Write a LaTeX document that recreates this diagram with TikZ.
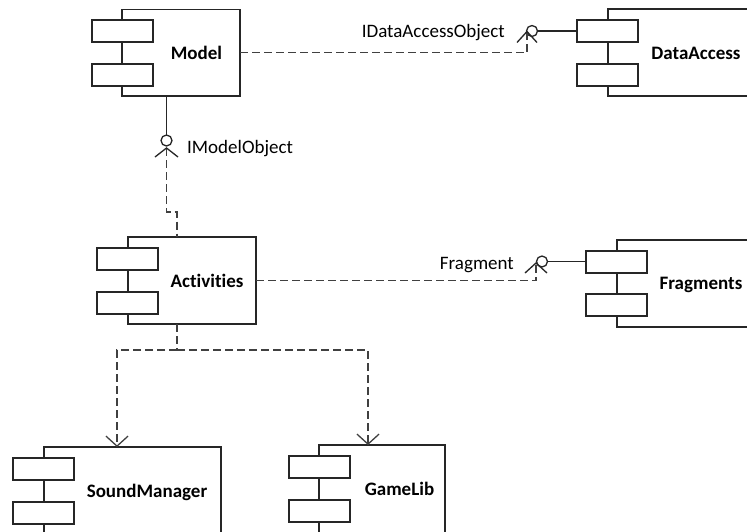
\documentclass[tikz,border=0pt]{standalone}
\usepackage{fontspec}
\setmainfont{Carlito}[Ligatures=NoCommon]
\usetikzlibrary{arrows.meta,calc}
\begin{document}
\begin{tikzpicture}[x=1pt,y=-1pt,
  box/.style={draw=black!85, line width=1.3pt, fill=white, inner sep=0pt, outer sep=0pt, anchor=north west},
  port/.style={box, minimum width=61pt, minimum height=22pt},
  iface/.style={circle, draw=black!85, line width=1.3pt, inner sep=0pt, outer sep=0pt, minimum size=11pt},
  dep/.style={draw=black!75, line width=1.3pt, dash pattern=on 8pt off 4pt},
  wire/.style={draw=black!85, line width=1.3pt},
  title/.style={font=\fontsize{19}{23}\selectfont\bfseries, inner sep=0pt, anchor=base},
  lbl/.style={font=\fontsize{19}{23}\selectfont, inner sep=0pt},
  open tip/.style={-{Straight Barb[length=10pt,width=22pt,line width=1.3pt]}}
]
\useasboundingbox (0,0) rectangle (747,531);
\fill[white] (0,0) rectangle (747,531);
\clip (0,0) rectangle (747,531);

% --- components ---
% Model
\node[box, minimum width=118pt, minimum height=86.5pt] (model) at (122,9.5) {};
\node[port] (model-p1) at (92,20) {};
\node[port] (model-p2) at (92,64) {};
\node[title] (model-t) at (196.5,59.5) {Model};

% DataAccess
\node[box, minimum width=200pt, minimum height=87pt] (da) at (608,9) {};
\node[port] (da-p1) at (577,20) {};
\node[port] (da-p2) at (577,64) {};
\node[title] (da-t) at (696,59.5) {DataAccess};

% Activities
\node[box, minimum width=128pt, minimum height=87pt] (act) at (128,237) {};
\node[port] (act-p1) at (97,248) {};
\node[port] (act-p2) at (97,292) {};
\node[title] (act-t) at (207,287.5) {Activities};

% Fragments
\node[box, minimum width=200pt, minimum height=87pt] (fr) at (617,240) {};
\node[port] (fr-p1) at (586,251) {};
\node[port] (fr-p2) at (586,294) {};
\node[title] (fr-t) at (701,289.5) {Fragments};

% SoundManager
\node[box, minimum width=177pt, minimum height=120pt] (sm) at (44,447) {};
\node[port] (sm-p1) at (13,458) {};
\node[port] (sm-p2) at (13,502) {};
\node[title] (sm-t) at (147,497.5) {SoundManager};

% GameLib
\node[box, minimum width=126pt, minimum height=120pt] (gl) at (319,445) {};
\node[port] (gl-p1) at (289,456) {};
\node[port] (gl-p2) at (289,500) {};
\node[title] (gl-t) at (399.5,495.5) {GameLib};

% --- IModelObject: provided by Model, required by Activities ---
\node[iface] (imo) at (166.5,140.5) {};
\coordinate (imo-apex) at (166.5,148);
\coordinate (act-in) at ($(act.north west)+(49,0)$);
\draw[wire] (imo |- model.south) -- (imo.north);
\draw[dep] (imo-apex) -- ++(0,64) -| (act-in);
\draw[wire] ($(imo-apex)+(-11.5,9)$) -- (imo-apex) -- ($(imo-apex)+(11.5,9)$);
\node[lbl, anchor=base west] (imo-l) at (187,153) {IModelObject};

% --- IDataAccessObject: provided by DataAccess, required by Model ---
\node[iface] (ida) at (532,31) {};
\coordinate (ida-apex) at (527,31.5);
\draw[dep] (model.east) -| (ida-apex);
\draw[wire] ($(ida-apex)+(-10,11)$) -- (ida-apex) -- ($(ida-apex)+(10,11)$);
\draw[wire] (ida.east) -- (ida.east -| da-p1.west);
\node[lbl, anchor=base east] (ida-l) at (505,37.5) {IDataAccessObject};

% --- Fragment: provided by Fragments, required by Activities ---
\node[iface] (ifr) at (542,261.5) {};
\coordinate (ifr-apex) at (536,263);
\draw[dep] (act.east) -| (ifr-apex);
\draw[wire] ($(ifr-apex)+(-11,10)$) -- (ifr-apex) -- ($(ifr-apex)+(11,10)$);
\draw[wire] (ifr.east) -- (ifr.east -| fr-p1.west);
\node[lbl, anchor=base east] (ifr-l) at (514,269) {Fragment};

% --- dependencies of Activities ---
\coordinate (act-out) at ($(act.south west)+(49,0)$);
\coordinate (sm-in) at ($(sm.north west)+(73,0)$);
\coordinate (gl-in) at ($(gl.north west)+(49,0)$);
\draw[dep] (act-out) -- ++(0,26) coordinate (split);
\draw[dep, open tip] (split) -| (sm-in);
\draw[dep, open tip] (split) -| (gl-in);
\end{tikzpicture}
\end{document}
